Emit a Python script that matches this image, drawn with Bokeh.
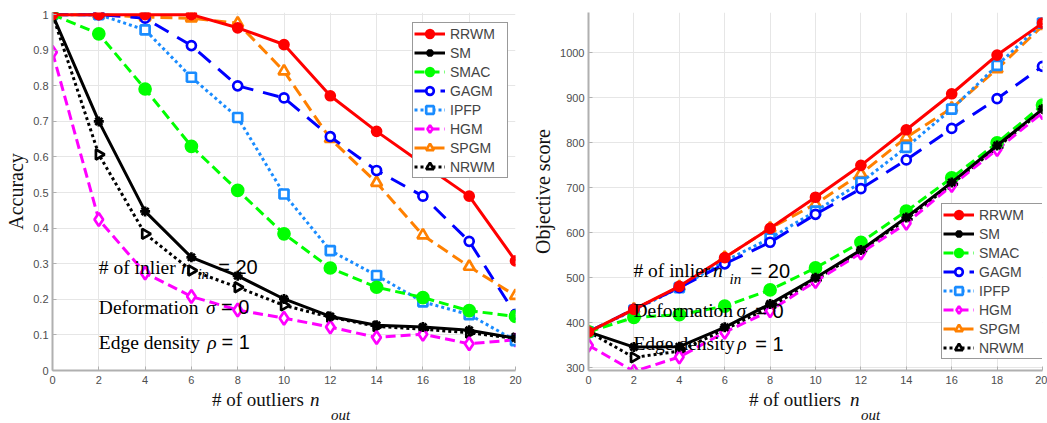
import math
from bokeh.plotting import figure
from bokeh.layouts import row, column
from bokeh.models import Range1d, FixedTicker, Legend, LegendItem, Label, Div
from bokeh.embed import file_html
from bokeh.resources import INLINE

# ---------------- data ----------------
x_outliers = [0, 2, 4, 6, 8, 10, 12, 14, 16, 18, 20]
methods = ["RRWM", "SM", "SMAC", "GAGM", "IPFP", "HGM", "SPGM", "NRWM"]

acc_rrwm = [1, 1, 1, 1, 0.963, 0.916, 0.772, 0.672, 0.58, 0.49, 0.308]
acc_sm = [1, 0.70, 0.447, 0.318, 0.266, 0.201, 0.152, 0.127, 0.122, 0.113, 0.091]
acc_smac = [1, 0.946, 0.791, 0.63, 0.506, 0.384, 0.288, 0.234, 0.205, 0.168, 0.152]
acc_gagm = [1, 1, 0.99, 0.913, 0.80, 0.766, 0.657, 0.562, 0.49, 0.363, 0.158]
acc_ipfp = [1, 1, 0.957, 0.824, 0.711, 0.496, 0.337, 0.267, 0.193, 0.157, 0.084]
acc_hgm = [0.894, 0.424, 0.274, 0.208, 0.17, 0.147, 0.122, 0.093, 0.102, 0.075, 0.086]
acc_spgm = [1, 1, 0.993, 0.99, 0.976, 0.841, 0.651, 0.528, 0.38, 0.292, 0.21]
acc_nrwm = [1, 0.607, 0.384, 0.281, 0.234, 0.183, 0.15, 0.124, 0.116, 0.106, 0.09]

obj_rrwm = [380, 430, 481, 545, 610, 679, 750, 829, 909, 995, 1066]
obj_sm = [380, 346, 347, 390, 442, 500, 562, 634, 712, 794, 875]
obj_smac = [380, 412, 418, 437, 473, 522, 579, 648, 722, 800, 884]
obj_gagm = [380, 430, 478, 531, 579, 641, 698, 762, 832, 898, 970]
obj_ipfp = [380, 428, 478, 537, 588, 648, 712, 790, 875, 972, 1066]
obj_hgm = [350, 292, 324, 379, 427, 492, 555, 621, 705, 785, 867]
obj_spgm = [380, 430, 480, 545, 610, 664, 731, 812, 877, 964, 1060]
obj_nrwm = [380, 323, 337, 385, 435, 495, 560, 630, 708, 790, 872]

acc_series = [acc_rrwm, acc_sm, acc_smac, acc_gagm, acc_ipfp, acc_hgm, acc_spgm, acc_nrwm]
obj_series = [obj_rrwm, obj_sm, obj_smac, obj_gagm, obj_ipfp, obj_hgm, obj_spgm, obj_nrwm]

x_ticks = [0, 2, 4, 6, 8, 10, 12, 14, 16, 18, 20]
acc_ticks = [0, 0.1, 0.2, 0.3, 0.4, 0.5, 0.6, 0.7, 0.8, 0.9, 1]
acc_tick_labels = ["0", "0.1", "0.2", "0.3", "0.4", "0.5", "0.6", "0.7", "0.8", "0.9", "1"]
obj_ticks = [300, 400, 500, 600, 700, 800, 900, 1000]

# ---------------- styles ----------------
styles = {
    "RRWM": dict(color="#ff0000", dash="solid", marker="circle", size=9, fill="#ff0000", angle=0),
    "SM": dict(color="#000000", dash="solid", marker="asterisk", size=10, fill="#000000", angle=0),
    "SMAC": dict(color="#00ff00", dash="10 5", marker="circle", size=11, fill="#00ff00", angle=0),
    "GAGM": dict(color="#0000ff", dash="16 10", marker="circle", size=9, fill="white", angle=0),
    "IPFP": dict(color="#1a8cff", dash="3 3", marker="square", size=9, fill="white", angle=0),
    "HGM": dict(color="#ff00ff", dash="10 5", marker="diamond", size=13, fill="white", angle=0),
    "SPGM": dict(color="#ff8000", dash="12 6", marker="triangle", size=11, fill="white", angle=0),
    "NRWM": dict(color="#000000", dash="3 3", marker="triangle", size=10, fill="white", angle=-math.pi / 2),
}

SERIF = "Liberation Serif"
SANS = "Liberation Sans"
TXT = "19.5px"


def make_fig(width, frame_w, left, right, yr):
    p = figure(width=width, height=389, frame_width=frame_w, frame_height=358,
               min_border_left=left, min_border_right=right, min_border_top=12,
               min_border_bottom=19, x_range=Range1d(0, 20), y_range=yr,
               output_backend="svg", toolbar_location=None)
    p.outline_line_color = None
    p.background_fill_color = "white"
    p.border_fill_color = "white"
    for ax in (p.xaxis[0], p.yaxis[0]):
        ax.axis_line_color = "#b0b0b0"
        ax.axis_line_width = 2
        ax.major_tick_in = 4
        ax.major_tick_out = 0
        ax.major_tick_line_color = "#b0b0b0"
        ax.minor_tick_line_color = None
        ax.major_label_text_font = SANS
        ax.major_label_text_font_size = "11px"
        ax.major_label_text_color = "#4d4d4d"
        ax.axis_label_text_font = SERIF
        ax.axis_label_text_font_size = "20px"
        ax.axis_label_text_font_style = "normal"
        ax.axis_label_text_color = "#111111"
    p.xaxis[0].ticker = FixedTicker(ticks=x_ticks)
    p.xaxis[0].major_label_standoff = 5
    p.yaxis[0].major_label_standoff = 4
    p.yaxis[0].axis_label_standoff = 3
    p.grid.grid_line_color = "#e6e6e6"
    p.grid.grid_line_width = 1
    return p


def add_series(p, series):
    renderers = {}
    for name, ys in reversed(list(zip(methods, series))):
        st = styles[name]
        ln = p.line(x_outliers, ys, line_color=st["color"], line_width=3, line_dash=st["dash"])
        sc = p.scatter(x_outliers, ys, marker=st["marker"], size=st["size"], line_color=st["color"],
                       line_width=2.7, fill_color=st["fill"], angle=st["angle"])
        renderers[name] = [ln, sc]
    return [LegendItem(label=name, renderers=renderers[name]) for name in methods]


def add_legend(p, items, loc, label_width):
    lg = Legend(items=items, location=loc, label_text_font=SANS, label_text_font_size="14px",
                glyph_width=31, glyph_height=19, label_height=19, label_width=label_width,
                label_standoff=5, spacing=0, padding=1, margin=0,
                border_line_color="#333333", border_line_width=1,
                background_fill_color="white", background_fill_alpha=1)
    p.add_layout(lg)


def label(p, x, y, text, font, size, style="normal"):
    p.add_layout(Label(x=x, y=y, text=text, text_font=font, text_font_size=size,
                       text_font_style=style, text_baseline="alphabetic", text_align="left",
                       text_color="black"))


def xlabel_div(width, x_main, x_n, x_sub):
    base = "position:absolute;white-space:nowrap;font-family:'Liberation Serif';color:#111;"
    html = (
        f'<div style="position:relative;width:{width}px;height:34px;">'
        f'<span style="{base}left:{x_main}px;top:4px;line-height:14px;font-size:19px;"># of outliers</span>'
        f'<span style="{base}left:{x_n}px;top:4px;line-height:14px;font-size:19px;font-style:italic;">n</span>'
        f'<span style="{base}left:{x_sub}px;top:21px;line-height:10px;font-size:15px;font-style:italic;">out</span>'
        '</div>'
    )
    return Div(text=html, width=width, height=34, margin=0)


# ---------------- left: accuracy ----------------
p1 = make_fig(523, 463, 52, 8, Range1d(0, 1.006))
p1.yaxis[0].ticker = FixedTicker(ticks=acc_ticks)
p1.yaxis[0].major_label_overrides = {t: s for t, s in zip(acc_ticks, acc_tick_labels)}
p1.yaxis[0].axis_label = "Accuracy"
items1 = add_series(p1, acc_series)
add_legend(p1, items1, (360, 192), 56)

label(p1, 2.0, 0.290, "# of inlier", SERIF, TXT)
label(p1, 5.55, 0.290, "n", SERIF, TXT, "italic")
label(p1, 6.26, 0.272, "in", SERIF, "15px", "italic")
label(p1, 7.16, 0.290, "= 20", SANS, "20px")
label(p1, 2.0, 0.178, "Deformation", SERIF, TXT)
label(p1, 6.63, 0.178, "\u03c3", SERIF, TXT, "italic")
label(p1, 7.28, 0.178, "= 0", SANS, "20px")
label(p1, 2.0, 0.0795, "Edge density", SERIF, TXT)
label(p1, 6.68, 0.0795, "\u03c1", SERIF, TXT, "italic")
label(p1, 7.3, 0.0795, "= 1", SANS, "20px")

# ---------------- right: objective ----------------
p2 = make_fig(524, 454, 65, 5, Range1d(294, 1089.6))
p2.yaxis[0].ticker = FixedTicker(ticks=obj_ticks)
p2.yaxis[0].axis_label = "Objective score"
items2 = add_series(p2, obj_series)
add_legend(p2, items2, (353, 11), 64)

label(p2, 1.98, 516, "# of inlier", SERIF, TXT)
label(p2, 5.48, 516, "n", SERIF, TXT, "italic")
label(p2, 6.21, 498, "in", SERIF, "15px", "italic")
label(p2, 7.14, 516, "= 20", SANS, "20px")
label(p2, 1.98, 427, "Deformation", SERIF, TXT)
label(p2, 6.52, 427, "\u03c3", SERIF, TXT, "italic")
label(p2, 7.35, 427, "= 0", SANS, "20px")
label(p2, 1.98, 353, "Edge density", SERIF, TXT)
label(p2, 6.55, 353, "\u03c1", SERIF, TXT, "italic")
label(p2, 7.35, 353, "= 1", SANS, "20px")

d1 = xlabel_div(523, 212, 310, 331)
d2 = xlabel_div(524, 226, 327, 338)

layout = column(row(p1, p2), row(d1, d2))
open("out.html", "w").write(file_html(layout, INLINE))
